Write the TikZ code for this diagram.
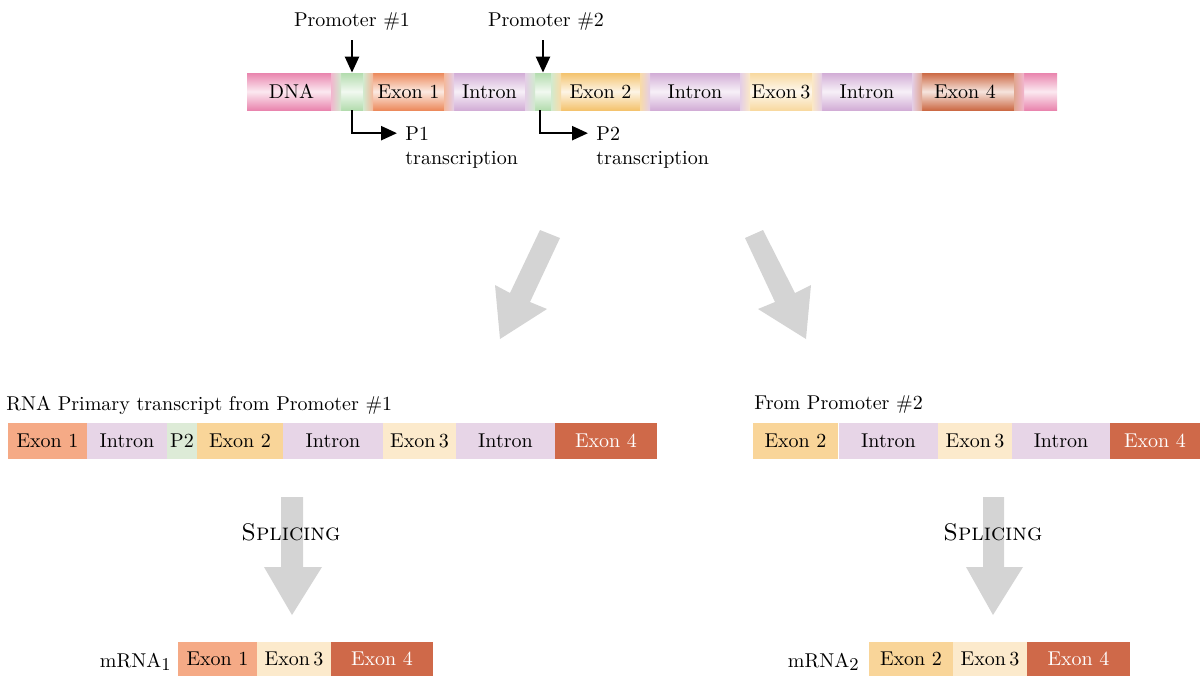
\documentclass[tikz,border=0pt]{standalone}
\usetikzlibrary{arrows.meta}
\definecolor{cpink}{HTML}{E985AE}
\definecolor{cgreen}{HTML}{B3DCAE}
\definecolor{cex1}{HTML}{EC8A5C}
\definecolor{cint}{HTML}{D2ADD6}
\definecolor{cex2}{HTML}{F4C36E}
\definecolor{cex3}{HTML}{F8D9A0}
\definecolor{cex4}{HTML}{CC6A45}
\definecolor{fex1}{HTML}{F5AA86}
\definecolor{fint}{HTML}{E7D5E7}
\definecolor{fp2}{HTML}{DDEBD7}
\definecolor{fex2}{HTML}{F9D599}
\definecolor{fex3}{HTML}{FCEACC}
\definecolor{fex4}{HTML}{CF6949}
\definecolor{arrowgray}{HTML}{D4D4D4}
\newcommand\dseg[4]{\node[dnabox, top color=#1, bottom color=#1, middle color=#1!18!white, minimum width={(#3-#2)*0.5pt}] (#4) at ({(#2+#3)/2},91.5) {};}
\newcommand\dtrans[3]{\shade[left color=#1!60!white, right color=#2!60!white] ({#3-5},73) rectangle ({#3+5},110);}
\newcommand\fseg[7]{\node[fbox, #1, minimum width={(#3-#2)*0.5pt}, minimum height={(#5-#4)*0.5pt}] (#6) at ({(#2+#3)/2},{(#4+#5)/2}) {#7};}
\begin{document}
\begin{tikzpicture}[x=0.5pt,y=-0.5pt,
  dnabox/.style={inner sep=0, minimum height=18.5pt},
  fbox/.style={inner sep=0, outer sep=0},
  lbl/.style={inner sep=0},
  blk/.style={-{Triangle[length=8pt,width=7pt]}, line width=1.2pt},
  bigarr/.style={fill=arrowgray}]
\useasboundingbox (0,0) rectangle (1200,676);
% ---------- DNA bar ----------
\dseg{cpink}{247}{336}{dna}
\dseg{cgreen}{336}{368}{p1}
\dseg{cex1}{368}{449}{e1}
\dseg{cint}{449}{530}{i1}
\dseg{cgreen}{530}{556}{p2}
\dseg{cex2}{556}{645}{e2}
\dseg{cint}{645}{745}{i2}
\dseg{cex3}{745}{817}{e3}
\dseg{cint}{817}{917}{i3}
\dseg{cex4}{917}{1019}{e4}
\dseg{cpink}{1019}{1057}{dend}
\dtrans{cpink}{cgreen}{336}
\dtrans{cgreen}{cex1}{368}
\dtrans{cex1}{cint}{449}
\dtrans{cint}{cgreen}{530}
\dtrans{cgreen}{cex2}{556}
\dtrans{cex2}{cint}{645}
\dtrans{cint}{cex3}{745}
\dtrans{cex3}{cint}{817}
\dtrans{cint}{cex4}{917}
\dtrans{cex4}{cpink}{1019}
\node (tdna) at (dna.center) {DNA};
\node (te1) at (e1.center) {Exon 1};
\node (ti1) at (i1.center) {Intron};
\node (te2) at (e2.center) {Exon 2};
\node (ti2) at (i2.center) {Intron};
\node (te3) at (e3.center) {Exon\,3};
\node (ti3) at (i3.center) {Intron};
\node (te4) at ([xshift=-1.5pt]e4.center) {Exon 4};
% promoters
\node[lbl, anchor=base] (prom1) at (352,26) {Promoter \#1};
\node[lbl, anchor=base] (prom2) at (546,26) {Promoter \#2};
\draw[blk] ([yshift=-5pt]prom1.south -| p1.north) -- (p1.north);
\draw[blk] ([yshift=-5pt]prom2.south -| p2.north) -- (p2.north);
\node[lbl, anchor=base west] (p1t) at (405,140) {P1};
\node[lbl, anchor=base west] (p1tr) at (405,164) {transcription};
\node[lbl, anchor=base west] (p2t) at (596,140) {P2};
\node[lbl, anchor=base west] (p2tr) at (596,164) {transcription};
\draw[blk] (p1.south) |- ([xshift=-4pt]p1t.west);
\draw[blk] ([xshift=-1.5pt]p2.south) |- ([xshift=-4pt]p2t.west);
% big diagonal arrows
\fill[bigarr] (540,230) -- (560,238) -- (530,302) -- (547,309) -- (500,339) -- (495,285) -- (510,293) -- cycle;
\fill[bigarr] (763,230) -- (745,238) -- (775,302) -- (758,309) -- (806,339) -- (811,285) -- (795,293) -- cycle;
% ---------- primary transcripts ----------
\node[lbl, anchor=base west] (rna1lab) at (6,410) {RNA Primary transcript from Promoter \#1};
\fseg{fill=fex1}{8}{87}{423}{459}{r1e1}{Exon 1}
\fseg{fill=fint}{87}{167}{423}{459}{r1i1}{Intron}
\fseg{fill=fp2}{167}{197}{423}{459}{r1p2}{P2}
\fseg{fill=fex2}{197}{283}{423}{459}{r1e2}{Exon 2}
\fseg{fill=fint}{283}{383}{423}{459}{r1i2}{Intron}
\fseg{fill=fex3}{383}{456}{423}{459}{r1e3}{Exon\,3}
\fseg{fill=fint}{456}{555}{423}{459}{r1i3}{Intron}
\fseg{fill=fex4, text=white}{555}{657}{423}{459}{r1e4}{Exon 4}
\node[lbl, anchor=base west] (rna2lab) at (754,409) {From Promoter \#2};
\fseg{fill=fex2}{753}{838}{423}{459}{r2e2}{Exon 2}
\fseg{fill=fint}{839}{938}{423}{459}{r2i2}{Intron}
\fseg{fill=fex3}{938}{1012}{423}{459}{r2e3}{Exon\,3}
\fseg{fill=fint}{1012}{1110}{423}{459}{r2i3}{Intron}
\fseg{fill=fex4, text=white}{1110}{1200}{423}{459}{r2e4}{Exon 4}
% ---------- splicing arrows ----------
\fill[bigarr] (281,497) -- (303,497) -- (303,567) -- (322,567) -- (292,615) -- (264,567) -- (281,567) -- cycle;
\fill[bigarr] (983,497) -- (1004,497) -- (1004,567) -- (1023,567) -- (993,615) -- (966,567) -- (983,567) -- cycle;
\node[lbl, anchor=base, font=\large] (spl1) at (291,540) {\textsc{Splicing}};
\node[lbl, anchor=base, font=\large] (spl2) at (993,540) {\textsc{Splicing}};
% ---------- mRNAs ----------
\fseg{fill=fex1}{178}{257}{642}{676}{m1e1}{Exon 1}
\fseg{fill=fex3}{257}{331}{642}{676}{m1e3}{Exon\,3}
\fseg{fill=fex4, text=white}{331}{433}{642}{676}{m1e4}{Exon 4}
\node[lbl, anchor=base east] (m1lab) at (171,667) {mRNA\raisebox{-0.45ex}{\small 1}};
\fseg{fill=fex2}{869}{953}{642}{676}{m2e2}{Exon 2}
\fseg{fill=fex3}{953}{1027}{642}{676}{m2e3}{Exon\,3}
\fseg{fill=fex4, text=white}{1027}{1130}{642}{676}{m2e4}{Exon 4}
\node[lbl, anchor=base east] (m2lab) at (859,667) {mRNA\raisebox{-0.45ex}{\small 2}};
\end{tikzpicture}
\end{document}
